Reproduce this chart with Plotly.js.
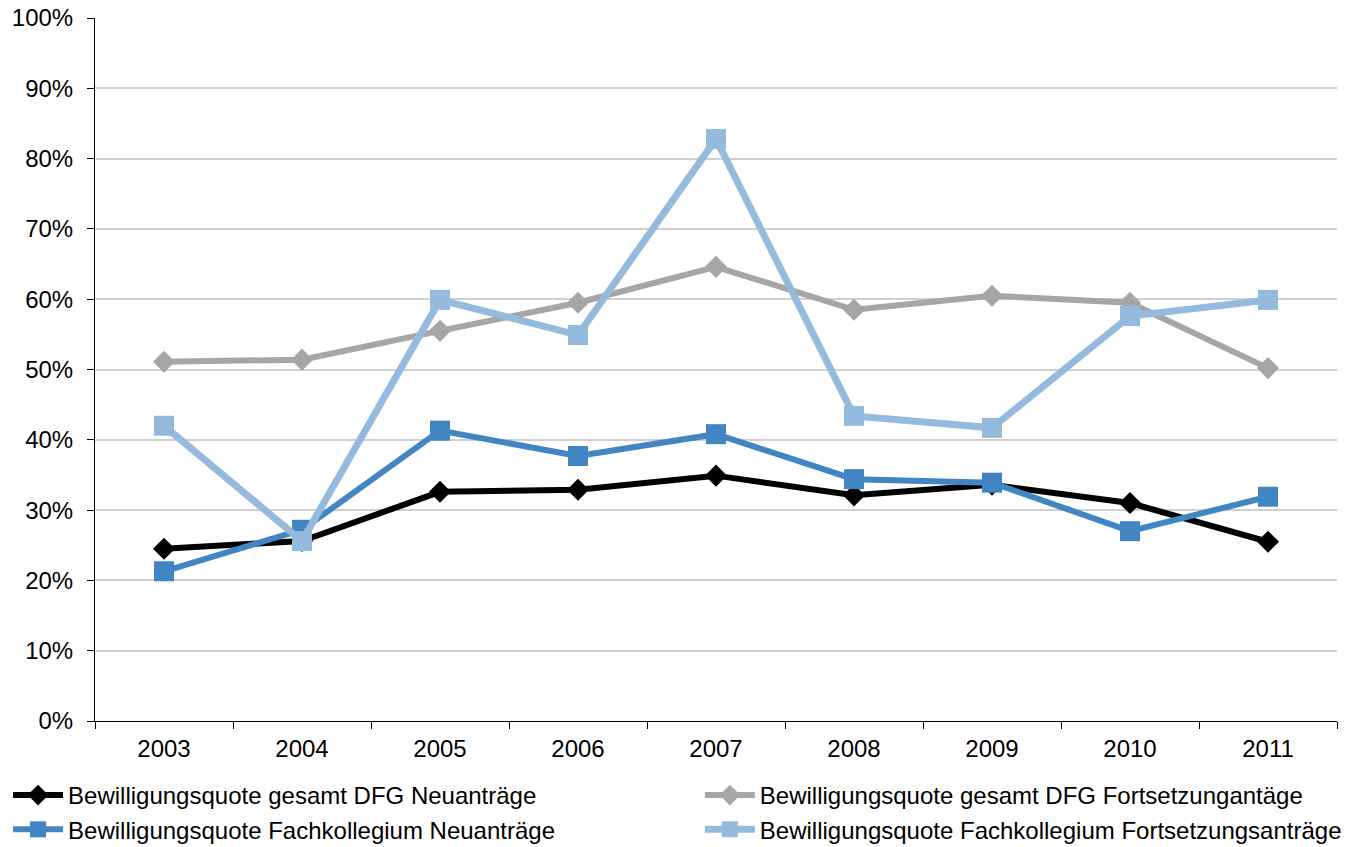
<!DOCTYPE html>
<html>
<head>
<meta charset="utf-8">
<script src="https://cdn.plot.ly/plotly-3.0.1.min.js"></script>
<style>html,body{margin:0;padding:0;background:#fff;}#chart{width:1358px;height:847px;}</style>
</head>
<body>
<div id="chart"></div>
<script>
const years = [2003, 2004, 2005, 2006, 2007, 2008, 2009, 2010, 2011];
const dfgNeu = [0.245, 0.256, 0.326, 0.329, 0.349, 0.321, 0.336, 0.310, 0.255];
const dfgFort = [0.511, 0.514, 0.555, 0.595, 0.646, 0.585, 0.605, 0.595, 0.502];
const fkNeu = [0.213, 0.272, 0.413, 0.377, 0.408, 0.344, 0.339, 0.270, 0.319];
const fkFort = [0.420, 0.256, 0.599, 0.549, 0.828, 0.434, 0.417, 0.576, 0.599];
const names = [
  "Bewilligungsquote gesamt DFG Neuanträge",
  "Bewilligungsquote gesamt DFG Fortsetzungantäge",
  "Bewilligungsquote Fachkollegium Neuanträge",
  "Bewilligungsquote Fachkollegium Fortsetzungsanträge"
];
const yTicks = [0,0.1,0.2,0.3,0.4,0.5,0.6,0.7,0.8,0.9,1.0];
const yTickText = ["0%","10%","20%","30%","40%","50%","60%","70%","80%","90%","100%"];

const traces = [
  {x: years, y: dfgNeu, name: names[0], mode: 'lines+markers', legend: 'legend',
   line: {color: '#000000', width: 6}, marker: {symbol: 'diamond', size: 17, color: '#000000'}},
  {x: years, y: dfgFort, name: names[1], mode: 'lines+markers', legend: 'legend2',
   line: {color: '#A6A6A6', width: 6}, marker: {symbol: 'diamond', size: 17, color: '#A6A6A6'}},
  {x: years, y: fkNeu, name: names[2], mode: 'lines+markers', legend: 'legend',
   line: {color: '#4185C3', width: 6}, marker: {symbol: 'square', size: 20, color: '#4185C3'}},
  {x: years, y: fkFort, name: names[3], mode: 'lines+markers', legend: 'legend2',
   line: {color: '#94BBDE', width: 7}, marker: {symbol: 'square', size: 20, color: '#94BBDE'}}
];

const legendBase = {
  orientation: 'v', xanchor: 'left', y: -0.074, yanchor: 'top',
  font: {size: 24}, bgcolor: 'rgba(0,0,0,0)', tracegroupgap: 0, itemwidth: 50
};

const layout = {
  width: 1358, height: 847,
  margin: {l: 95, r: 21, t: 18, b: 126, autoexpand: false},
  paper_bgcolor: '#fff', plot_bgcolor: '#fff',
  font: {family: 'Liberation Sans, Arial, sans-serif', size: 24, color: '#000'},
  showlegend: true,
  xaxis: {
    range: [2002.5, 2011.5], tickvals: years, ticktext: years.map(String),
    ticks: '', showgrid: false, zeroline: false,
    showline: true, linecolor: '#000', linewidth: 1,
    tickfont: {size: 24}, automargin: false, ticklabelstandoff: 6,
    minor: {tick0: 2002.5, dtick: 1, ticks: 'outside', ticklen: 7, tickcolor: '#000', tickwidth: 1, showgrid: false}
  },
  yaxis: {
    range: [0, 1], tickvals: yTicks, ticktext: yTickText,
    ticks: 'outside', ticklen: 7, tickcolor: '#000', tickwidth: 1,
    showgrid: true, gridcolor: '#D0D0D0', gridwidth: 2,
    zeroline: false, showline: true, linecolor: '#000', linewidth: 1,
    tickfont: {size: 24}, automargin: false, ticklabelstandoff: 9
  },
  legend: Object.assign({}, legendBase, {x: -0.07}),
  legend2: Object.assign({}, legendBase, {x: 0.487})
};

Plotly.newPlot('chart', traces, layout, {displayModeBar: false, staticPlot: true});
</script>
</body>
</html>
